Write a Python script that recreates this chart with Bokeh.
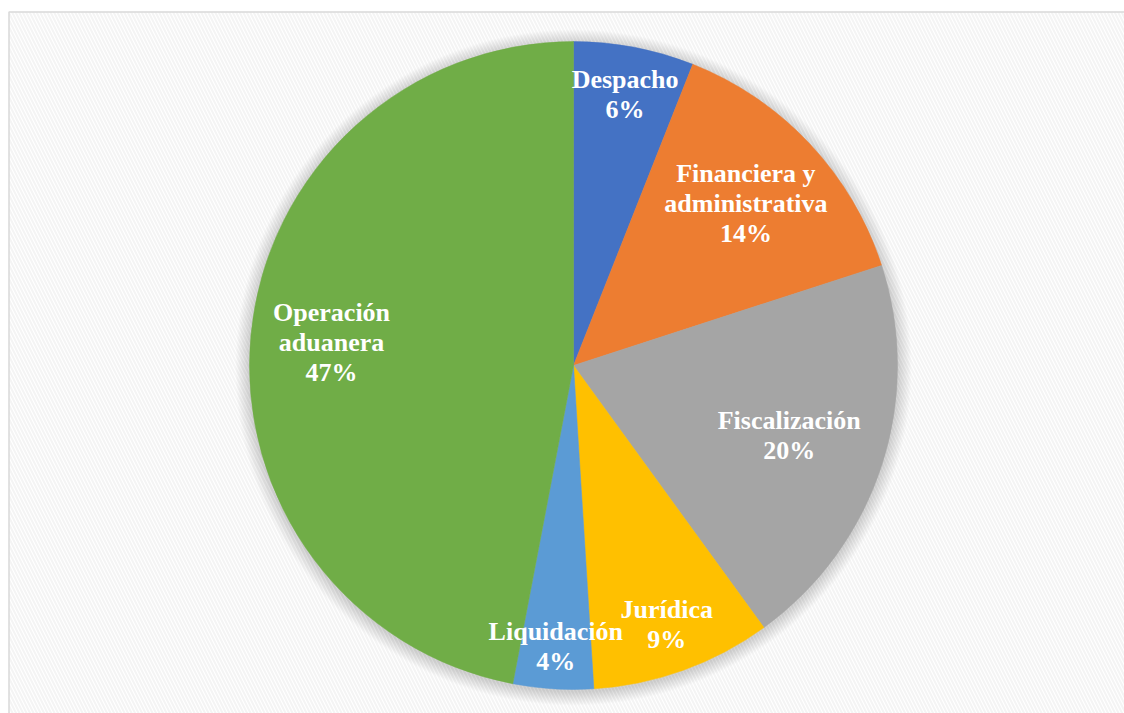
import math
from bokeh.plotting import figure
from bokeh.models import Range1d, ColumnDataSource
from bokeh.core.properties import value
from bokeh.embed import file_html
from bokeh.resources import INLINE

# ---- data ----
categories = ["Despacho", "Financiera y\nadministrativa", "Fiscalización",
              "Jurídica", "Liquidación", "Operación\naduanera"]
shares = [6, 14, 20, 9, 4, 47]
colors = ["#4472C4", "#ED7D31", "#A5A5A5", "#FFC000", "#5B9BD5", "#70AD47"]

# ---- layout / style ----
W, H = 1124, 713
CX, CY = 573, H - 365
R = 324
label_frac = [0.85, 0.73, 0.70, 0.85, 0.87, 0.75]
FONT = "Liberation Serif"
FS = 26
LINE_H = 30

p = figure(width=W, height=H, output_backend="svg", toolbar_location=None,
           x_range=Range1d(0, W), y_range=Range1d(0, H), min_border=0)
p.axis.visible = False
p.grid.visible = False
p.outline_line_color = None
p.background_fill_color = "white"
p.border_fill_color = "white"

# chart area with diagonal stripes
p.quad(left=[8.5], right=[W + 10], bottom=[-10], top=[H - 11.5],
       fill_color="white", line_color="#d9d9d9", line_width=1.5,
       hatch_pattern="\\", hatch_color="#f4f4f4", hatch_scale=7, hatch_weight=2)

# soft shadow
for i in range(14):
    p.circle(x=[CX], y=[CY - 2], radius=R + 14 - i, fill_color="black",
             fill_alpha=0.012, line_color=None)

total = sum(shares)
cum = 0
starts, ends = [], []
for s in shares:
    starts.append(math.pi / 2 - 2 * math.pi * cum / total)
    cum += s
    ends.append(math.pi / 2 - 2 * math.pi * cum / total)

src = ColumnDataSource(dict(start=starts, end=ends, color=colors))
p.wedge(x=CX, y=CY, radius=R, start_angle="start", end_angle="end",
        direction="clock", fill_color="color", line_color="color", line_width=0.5,
        source=src)

# labels
lx, ly, lt = [], [], []
cum = 0
for name, s, f in zip(categories, shares, label_frac):
    mid = math.pi / 2 - 2 * math.pi * (cum + s / 2) / total
    cum += s
    x0 = CX + f * R * math.cos(mid)
    y0 = CY + f * R * math.sin(mid)
    lines = name.split("\n") + [f"{round(100 * s / total)}%"]
    n = len(lines)
    for k, t in enumerate(lines):
        lx.append(x0)
        ly.append(y0 + ((n - 1) / 2 - k) * LINE_H)
        lt.append(t)

p.text(x=lx, y=ly, text=lt, text_align="center", text_baseline="middle",
       text_font=value(FONT), text_font_style="bold", text_font_size=f"{FS}px",
       text_color="white")

open("out.html", "w").write(file_html(p, INLINE))
